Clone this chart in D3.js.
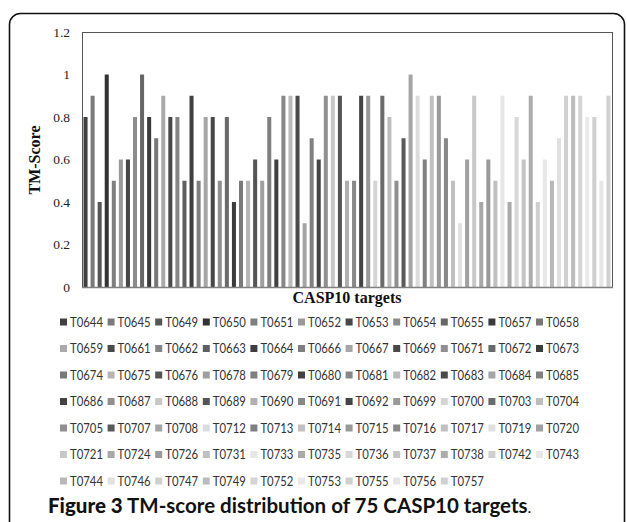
<!DOCTYPE html>
<html>
<head>
<meta charset="utf-8">
<script src="https://cdn.jsdelivr.net/npm/d3@7"></script>
<style>
  html, body { margin: 0; padding: 0; background: #fff; }
  svg { display: block; }
</style>
</head>
<body>
<svg id="chart" width="627" height="522"></svg>
<script>
const targets = [
  "T0644","T0645","T0649","T0650","T0651","T0652","T0653","T0654","T0655","T0657","T0658",
  "T0659","T0661","T0662","T0663","T0664","T0666","T0667","T0669","T0671","T0672","T0673",
  "T0674","T0675","T0676","T0678","T0679","T0680","T0681","T0682","T0683","T0684","T0685",
  "T0686","T0687","T0688","T0689","T0690","T0691","T0692","T0699","T0700","T0703","T0704",
  "T0705","T0707","T0708","T0712","T0713","T0714","T0715","T0716","T0717","T0719","T0720",
  "T0721","T0724","T0726","T0731","T0733","T0735","T0736","T0737","T0738","T0742","T0743",
  "T0744","T0746","T0747","T0749","T0752","T0753","T0755","T0756","T0757"
];
const tmScores = [
  0.8,0.9,0.4,1.0,0.5,0.6,0.6,0.8,1.0,0.8,0.7,
  0.9,0.8,0.8,0.5,0.9,0.5,0.8,0.8,0.5,0.8,0.4,
  0.5,0.5,0.6,0.5,0.8,0.6,0.9,0.9,0.9,0.3,0.7,
  0.6,0.9,0.9,0.9,0.5,0.5,0.9,0.9,0.5,0.9,0.8,
  0.5,0.7,1.0,0.9,0.6,0.9,0.9,0.7,0.5,0.3,0.6,
  0.9,0.4,0.6,0.5,0.9,0.4,0.8,0.6,0.9,0.4,0.6,
  0.5,0.7,0.9,0.9,0.9,0.8,0.8,0.5,0.9
];
const seriesColors = [
  "#404040","#7a7a7a","#555555","#333333","#7f7f7f","#999999","#474747","#8c8c8c","#666666","#3a3a3a","#777777",
  "#aaaaaa","#4a4a4a","#858585","#5f5f5f","#3f3f3f","#7f7f7f","#a6a6a6","#484848","#909090","#6a6a6a","#3c3c3c",
  "#7a7a7a","#b5b5b5","#555555","#a0a0a0","#7f7f7f","#404040","#888888","#bbbbbb","#4a4a4a","#a5a5a5","#808080",
  "#444444","#909090","#c8c8c8","#555555","#b0b0b0","#888888","#444444","#999999","#d5d5d5","#6b6b6b","#bdbdbd",
  "#909090","#5a5a5a","#a5a5a5","#dcdcdc","#808080","#c0c0c0","#999999","#888888","#c0c0c0","#e0e0e0","#a0a0a0",
  "#c8c8c8","#a8a8a8","#9a9a9a","#c0c0c0","#e6e6e6","#aaaaaa","#d8d8d8","#c4c4c4","#acacac","#cfcfcf","#e8e8e8",
  "#b8b8b8","#e0e0e0","#d0d0d0","#bcbcbc","#d4d4d4","#e9e9e9","#cfcfcf","#e6e6e6","#d0d0d0"
];
const yTicks = [0, 0.2, 0.4, 0.6, 0.8, 1.0, 1.2];
const yTitle = "TM-Score";
const xTitle = "CASP10 targets";
const captionBold = "Figure 3";
const captionRest = " TM-score distribution of 75 CASP10 targets";
const legendPerRow = 11;

const svg = d3.select("#chart");

// outer frame
svg.append("rect")
  .attr("x", 9.5).attr("y", 13.5)
  .attr("width", 615).attr("height", 560)
  .attr("rx", 11).attr("ry", 11)
  .attr("fill", "none").attr("stroke", "#111").attr("stroke-width", 1.6);

const plot = { left: 82, right: 612, top: 32, bottom: 287 };

const x = d3.scaleBand()
  .domain(targets)
  .range([plot.left, plot.right])
  .paddingInner(0.43)
  .paddingOuter(0.215);

const y = d3.scaleLinear()
  .domain([0, 1.2])
  .range([plot.bottom, plot.top]);

// plot border
svg.append("rect")
  .attr("x", plot.left + 0.5).attr("y", plot.top + 0.5)
  .attr("width", plot.right - plot.left).attr("height", plot.bottom - plot.top)
  .attr("fill", "none").attr("stroke", "#555").attr("stroke-width", 1);

// bars
svg.append("g").selectAll("rect")
  .data(targets)
  .join("rect")
  .attr("x", d => x(d))
  .attr("width", x.bandwidth())
  .attr("y", (d, i) => y(tmScores[i]))
  .attr("height", (d, i) => y(0) - y(tmScores[i]))
  .attr("fill", (d, i) => seriesColors[i]);

// x axis line
svg.append("line")
  .attr("x1", plot.left).attr("x2", plot.right + 1)
  .attr("y1", y(0) + 0.5).attr("y2", y(0) + 0.5)
  .attr("stroke", "#808080").attr("stroke-width", 1.5);

// y axis labels
const yAxis = d3.axisLeft(y).tickValues(yTicks).tickSize(0).tickPadding(12)
  .tickFormat(d => d3.format("~g")(d));
const yg = svg.append("g").attr("transform", `translate(${plot.left},0)`).call(yAxis);
yg.select(".domain").remove();
yg.selectAll("text")
  .attr("font-family", "'Liberation Serif', 'Times New Roman', serif")
  .attr("font-size", 13.5).attr("fill", "#222");

// axis titles
svg.append("text")
  .attr("transform", "translate(40,160) rotate(-90)")
  .attr("text-anchor", "middle")
  .attr("font-family", "'Liberation Serif', 'Times New Roman', serif")
  .attr("font-weight", "bold").attr("font-size", 16).attr("fill", "#111")
  .text(yTitle);

svg.append("text")
  .attr("x", (plot.left + plot.right) / 2).attr("y", 303)
  .attr("text-anchor", "middle")
  .attr("font-family", "'Liberation Serif', 'Times New Roman', serif")
  .attr("font-weight", "bold").attr("font-size", 16).attr("fill", "#111")
  .text(xTitle);

// legend
const colX = d3.scaleLinear().domain([0, 1]).range([60, 107.6]);
const rowY = d3.scaleLinear().domain([0, 1]).range([322, 348.5]);
const leg = svg.append("g").selectAll("g")
  .data(targets)
  .join("g")
  .attr("transform", (d, i) => `translate(${colX(i % legendPerRow)},${rowY(Math.floor(i / legendPerRow))})`);
leg.append("rect")
  .attr("x", 0).attr("y", -3.5).attr("width", 7).attr("height", 7)
  .attr("fill", (d, i) => seriesColors[i]);
leg.append("text")
  .attr("x", 10).attr("y", 0).attr("dy", "0.36em")
  .attr("font-family", "Lato, 'Open Sans', sans-serif")
  .attr("font-size", 13).attr("fill", "#333")
  .attr("textLength", 33).attr("lengthAdjust", "spacingAndGlyphs")
  .text(d => d);

// caption
const cap = svg.append("text")
  .attr("x", 48).attr("y", 513)
  .attr("font-family", "Lato, 'Open Sans', sans-serif")
  .attr("font-size", 20.5).attr("fill", "#111");
cap.append("tspan").attr("font-weight", 900).text(captionBold);
cap.append("tspan").attr("font-weight", 700).text(captionRest);
cap.append("tspan").attr("font-weight", 400).attr("font-size", 16).text(".");
</script>
</body>
</html>
